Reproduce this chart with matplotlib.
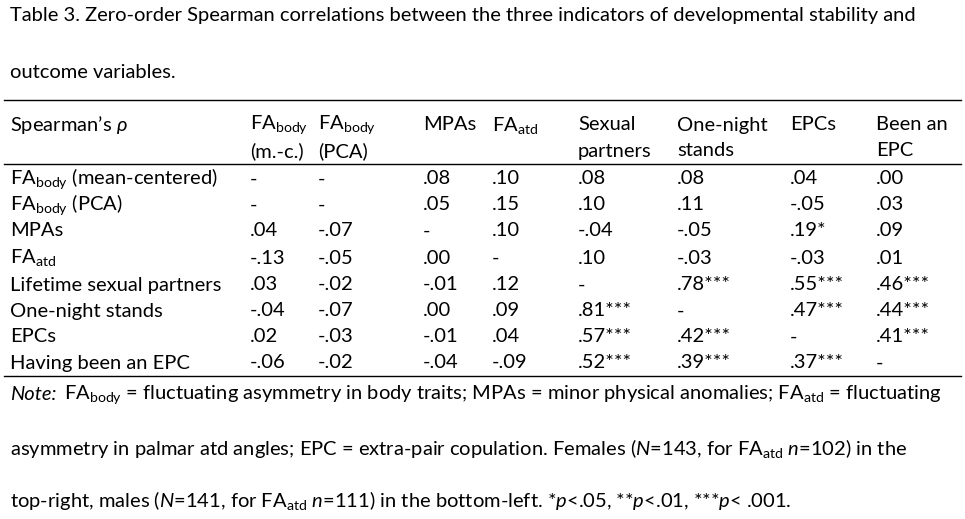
import matplotlib.pyplot as plt

plt.rcParams['font.family'] = ['Lato', 'DejaVu Sans']
plt.rcParams['mathtext.fontset'] = 'custom'
plt.rcParams['mathtext.rm'] = 'Lato'
plt.rcParams['mathtext.it'] = 'Lato:italic'

FS = 14.5

title_lines = ['Table 3. Zero-order Spearman correlations between the three indicators of developmental stability and',
               'outcome variables.']

header_top = ['FA$_{\\mathrm{body}}$', 'FA$_{\\mathrm{body}}$', 'MPAs', 'FA$_{\\mathrm{atd}}$',
              'Sexual', 'One-night', 'EPCs', 'Been an']
header_bot = ['(m.-c.)', '(PCA)', '', '', 'partners', 'stands', '', 'EPC']

row_labels = ['FA$_{\\mathrm{body}}$ (mean-centered)', 'FA$_{\\mathrm{body}}$ (PCA)', 'MPAs',
              'FA$_{\\mathrm{atd}}$', 'Lifetime sexual partners', 'One-night stands', 'EPCs',
              'Having been an EPC']

cells = [
    ['-', '-', '.08', '.10', '.08', '.08', '.04', '.00'],
    ['-', '-', '.05', '.15', '.10', '.11', '-.05', '.03'],
    ['.04', '-.07', '-', '.10', '-.04', '-.05', '.19*', '.09'],
    ['-.13', '-.05', '.00', '-', '.10', '-.03', '-.03', '.01'],
    ['.03', '-.02', '-.01', '.12', '-', '.78***', '.55***', '.46***'],
    ['-.04', '-.07', '.00', '.09', '.81***', '-', '.47***', '.44***'],
    ['.02', '-.03', '-.01', '.04', '.57***', '.42***', '-', '.41***'],
    ['-.06', '-.02', '-.04', '-.09', '.52***', '.39***', '.37***', '-'],
]

note_lines = [
    'FA$_{\\mathrm{body}}$ = fluctuating asymmetry in body traits; MPAs = minor physical anomalies; FA$_{\\mathrm{atd}}$ = fluctuating',
    'asymmetry in palmar atd angles; EPC = extra-pair copulation. Females ($\\mathit{N}$=143, for FA$_{\\mathrm{atd}}$ $\\mathit{n}$=102) in the',
    'top-right, males ($\\mathit{N}$=141, for FA$_{\\mathrm{atd}}$ $\\mathit{n}$=111) in the bottom-left. *$\\mathit{p}$<.05, **$\\mathit{p}$<.01, ***$\\mathit{p}$< .001.',
]

col_x = [250, 318, 423, 492, 578, 677, 790, 876]
row_y = [179, 205, 231, 258, 285, 311, 337, 363]

fig = plt.figure(figsize=(9.65, 5.19), dpi=100)
ax = fig.add_axes([0, 0, 1, 1])
ax.set_xlim(0, 965)
ax.set_ylim(519, 0)
ax.axis('off')

for y, t in zip([16, 72], title_lines):
    ax.text(10, y, t, fontsize=FS, va='center')

ax.plot([4, 961], [100, 100], color='black', lw=1)
ax.text(10, 125, 'Spearman\u2019s $\\mathit{\\rho}$', fontsize=FS, va='center')
for x, a, b in zip(col_x, header_top, header_bot):
    ax.text(x, 125, a, fontsize=FS, va='center')
    ax.text(x, 151, b, fontsize=FS, va='center')
ax.plot([4, 961], [164, 164], color='black', lw=1)

for y, lab, row in zip(row_y, row_labels, cells):
    ax.text(10, y, lab, fontsize=FS, va='center')
    for x, v in zip(col_x, row):
        ax.text(x, y, v, fontsize=FS, va='center')
ax.plot([4, 961], [376, 376], color='black', lw=1)

ax.text(10, 395, 'Note:', fontsize=FS, style='italic', va='center')
ax.text(64, 395, note_lines[0], fontsize=FS, va='center')
for y, t in zip([448, 500], note_lines[1:]):
    ax.text(10, y, t, fontsize=FS, va='center')

fig.savefig('out.png', dpi=100)
